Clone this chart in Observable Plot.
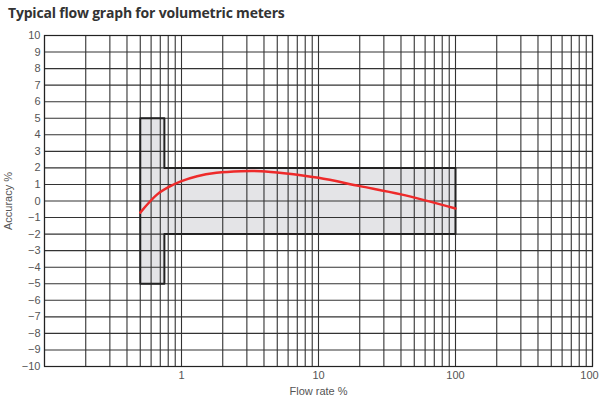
<!DOCTYPE html>
<html><head><meta charset="utf-8">
<script src="https://cdn.jsdelivr.net/npm/d3@7"></script>
<script src="https://cdn.jsdelivr.net/npm/@observablehq/plot@0.6"></script>
<style>
body{margin:0;background:#fff;}
#title{font-family:"Open Sans",sans-serif;font-weight:700;font-size:14px;color:#333;height:26px;line-height:26px;padding-left:8px;letter-spacing:-0.2px;}
svg{overflow:visible;}
</style></head><body>
<div id="title">Typical flow graph for volumetric meters</div>
<div id="chart"></div>
<script>
const flowRate = [0.5, 0.665, 0.83, 1, 1.3, 1.8, 2.7, 3.8, 5.6, 10, 20, 40, 100];
const accuracy = [-0.7, 0.4, 0.9, 1.2, 1.5, 1.7, 1.8, 1.8, 1.68, 1.4, 0.9, 0.4, -0.45];
const envelopeX = [0.5, 0.75, 0.75, 100, 100, 0.75, 0.75, 0.5, 0.5];
const envelopeY = [5, 5, 2, 2, -2, -2, -5, -5, 5];
const xTicks = [1, 10, 100, 1000];
const xTickLabels = ["1", "10", "100", "100"];
const yTicks = d3.range(-10, 11);
const xGrid = [0.1,0.2,0.3,0.4,0.5,0.6,0.7,0.8,0.9,1,2,3,4,5,6,7,8,9,10,20,30,40,50,60,70,80,90,100,200,300,400,500,600,700,800,900,1000];
const xLabel = "Flow rate %";
const yLabel = "Accuracy %";

const curve = flowRate.map((x, i) => ({x, y: accuracy[i]}));
const env = envelopeX.map((x, i) => ({x, y: envelopeY[i]}));
const xt = xTicks.map((x, i) => ({x, label: xTickLabels[i]}));

const chart = Plot.plot({
  width: 599, height: 373,
  marginTop: 9, marginBottom: 33, marginLeft: 44, marginRight: 7,
  style: {fontFamily: "'Liberation Sans', Arial, sans-serif", fontSize: "11px", color: "#555"},
  x: {type: "log", domain: [0.1, 1000], axis: null},
  y: {domain: [-10, 10], ticks: yTicks, tickSize: 0, tickPadding: 4, label: null},
  marks: [
    Plot.line(env, {x: "x", y: "y", fill: "#e4e4e7", stroke: "none"}),
    Plot.ruleX(xGrid, {stroke: "#333", strokeWidth: 1.1}),
    Plot.ruleY(yTicks, {stroke: "#333", strokeWidth: 1.1}),
    Plot.line(env, {x: "x", y: "y", stroke: "#222", strokeWidth: 2}),
    Plot.line(curve, {x: "x", y: "y", stroke: "#ee2a2a", strokeWidth: 2.5, curve: "catmull-rom"}),
    Plot.frame({stroke: "#222", strokeWidth: 1.2}),
    Plot.text(xt.slice(0, 3), {x: "x", text: "label", frameAnchor: "bottom", dy: 12, fill: "#555", fontSize: 11}),
    Plot.text(xt.slice(3), {x: "x", text: "label", frameAnchor: "bottom", dy: 12, dx: -3, fill: "#555", fontSize: 11}),
    Plot.text([xLabel], {text: d => d, frameAnchor: "bottom", dy: 28, fill: "#555", fontSize: 11}),
    Plot.text([yLabel], {text: d => d, frameAnchor: "left", dx: -36, rotate: -90, textAnchor: "middle", fill: "#555", fontSize: 11})
  ]
});
document.getElementById("chart").appendChild(chart);
</script>
</body></html>
